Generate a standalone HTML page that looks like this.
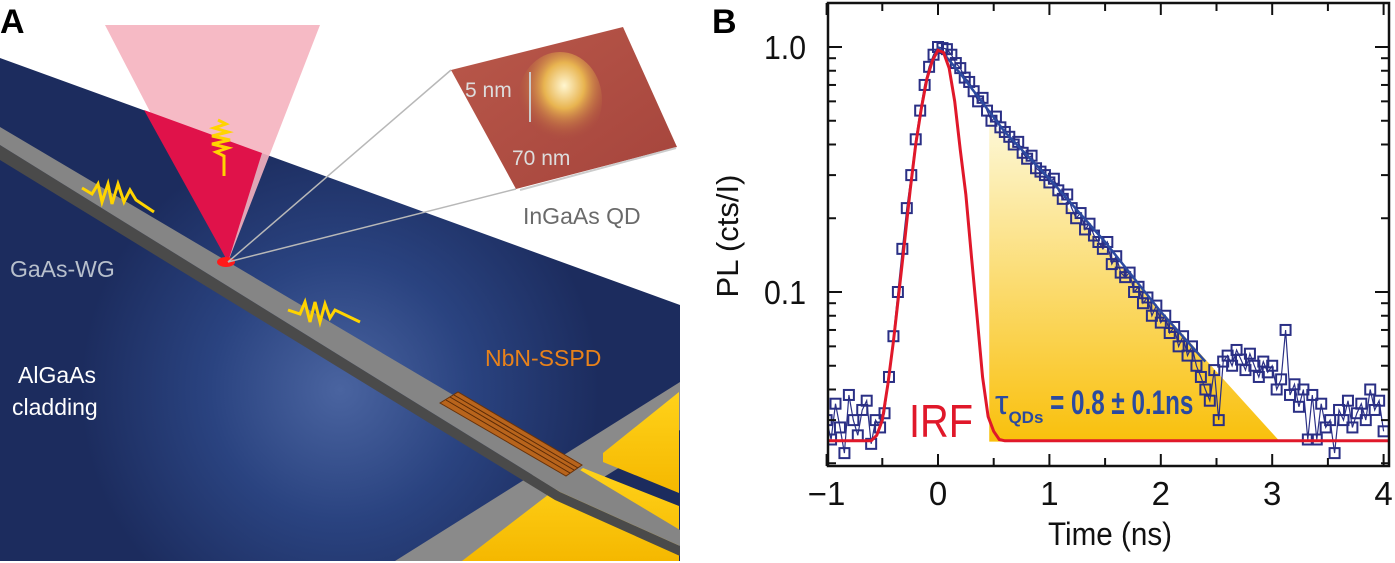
<!DOCTYPE html>
<html><head><meta charset="utf-8"><style>
html,body{margin:0;padding:0;background:#fff;width:1395px;height:563px;overflow:hidden}
svg{display:block}
text{font-family:"Liberation Sans",sans-serif}
</style></head><body>
<svg id="fig" width="1395" height="563" viewBox="0 0 1395 563">
<defs>
<radialGradient id="glow" cx="340" cy="390" r="260" gradientUnits="userSpaceOnUse">
<stop offset="0" stop-color="#4a64a0"/><stop offset="0.5" stop-color="#2a4380"/><stop offset="1" stop-color="#1c2c5e"/></radialGradient>
<linearGradient id="afm" x1="0" y1="0" x2="1" y2="1"><stop offset="0" stop-color="#b9584a"/><stop offset="1" stop-color="#a5443c"/></linearGradient>
<radialGradient id="bump" cx="0.55" cy="0.35" r="0.6"><stop offset="0" stop-color="#fff6d0"/><stop offset="0.4" stop-color="#e8b450"/><stop offset="1" stop-color="#a5443c" stop-opacity="0"/></radialGradient>
<linearGradient id="yel" x1="0" y1="0" x2="0" y2="1"><stop offset="0" stop-color="#fdf8d8"/><stop offset="1" stop-color="#f9c00c"/></linearGradient>
<linearGradient id="gold" x1="0" y1="0" x2="0" y2="1"><stop offset="0" stop-color="#ffd21a"/><stop offset="1" stop-color="#f5b800"/></linearGradient>
<clipPath id="plotclip"><rect x="828" y="3" width="561" height="463"/></clipPath>
</defs>

<!-- Panel A -->
<g>
<text x="0" y="33" font-size="34" font-weight="bold">A</text>
<polygon points="0,58 680,305 680,561 0,561" fill="url(#glow)"/>
<polygon points="395,561 468,561 680,430 680,382" fill="#8a8a8a"/>
<polygon points="462,561 583,468 679,506 679,561" fill="url(#gold)"/>
<polygon points="603,453 679,392 679,493 603,462" fill="url(#gold)"/>
<polygon points="0,145 560,492 680,546 680,556 555,500 0,160" fill="#4a4a4a"/>
<polygon points="0,127 580,470 680,530 680,546 560,492 0,145" fill="#858585"/>
<polygon points="440,403 458,392 582,465 566,476" fill="#b8641c" stroke="#6a3208" stroke-width="1"/>
<g stroke="#5a2a06" stroke-width="1">
<line x1="446" y1="400" x2="570" y2="473"/><line x1="450" y1="397" x2="574" y2="470"/><line x1="454" y1="395" x2="578" y2="468"/>
</g>
<polygon points="105,25 320,25 228,262" fill="#f5b3bf" opacity="0.9"/>
<polygon points="144,110 262,153 228,262" fill="#e0124a"/>
<ellipse cx="226" cy="262" rx="9" ry="5" fill="#ff1a1a"/>
<g fill="none" stroke="#ffd400" stroke-width="3">
<path d="M218,120 l8,4 -12,4 14,4 -16,4 18,4 -18,4 16,4 -12,4 8,4 0,20"/>
<path d="M82,188 l10,6 6,-10 4,18 6,-18 4,20 6,-20 6,18 6,-12 6,10 18,12"/>
<path d="M288,310 l12,4 5,-12 5,20 5,-20 5,20 5,-18 5,14 5,-8 25,12"/>
</g>
<line x1="228" y1="262" x2="451" y2="70" stroke="#b8b8b8" stroke-width="1.5"/>
<line x1="228" y1="262" x2="516" y2="189" stroke="#b8b8b8" stroke-width="1.5"/>
<polygon points="451,70 623,27 677,147 516,189" fill="url(#afm)"/>
<ellipse cx="560" cy="100" rx="42" ry="48" fill="url(#bump)"/>
<line x1="530" y1="72" x2="530" y2="122" stroke="#ccc" stroke-width="2"/>
<line x1="520" y1="190" x2="676" y2="148" stroke="#ccc" stroke-width="2"/>
<text x="465" y="97" font-size="21" fill="#ddd">5 nm</text>
<text x="512" y="165" font-size="21" fill="#ddd">70 nm</text>
<text x="523" y="224" font-size="23" fill="#6a6a6a">InGaAs QD</text>
<text x="10" y="277" font-size="23" fill="#b8c0cc">GaAs-WG</text>
<text x="18" y="383" font-size="23" fill="#fff">AlGaAs</text>
<text x="12" y="415" font-size="23" fill="#fff">cladding</text>
<text x="485" y="366" font-size="23" fill="#e8821a">NbN-SSPD</text>
</g>

<!-- Panel B -->
<text x="712" y="33" font-size="34" font-weight="bold">B</text>
<g id="chart"></g>
</svg>
<script>
var tStart = -1.0, tStep = 0.04;
var plValues = [0.03,0.025,0.035,0.028,0.022,0.038,0.03,0.026,0.033,0.036,0.024,0.03,0.028,
0.032,0.045,0.066,0.1,0.15,0.22,0.3,0.42,0.55,0.7,0.83,0.93,1.0,0.99,0.98,0.93,0.86,0.82,0.75,0.72,0.66,0.6,0.62,0.55,0.5,0.52,0.47,0.45,0.43,0.4,0.41,0.37,0.35,0.36,0.32,0.31,0.3,0.28,0.29,0.26,0.24,0.25,0.22,0.2,0.21,0.18,0.19,0.17,0.16,0.15,0.16,0.13,0.14,0.12,0.115,0.12,0.1,0.105,0.09,0.095,0.08,0.088,0.075,0.08,0.068,0.072,0.06,0.066,0.055,0.06,0.05,0.045,0.04,0.036,0.048,0.03,0.052,0.055,0.05,0.058,0.053,0.048,0.056,0.05,0.045,0.052,0.047,0.05,0.04,0.044,0.07,0.038,0.042,0.034,0.04,0.025,0.038,0.025,0.035,0.028,0.03,0.022,0.033,0.03,0.036,0.028,0.032,0.035,0.03,0.04,0.033,0.036,0.027];
var fitT = [0,0.2,0.6,1,1.5,2,2.4];
var fitV = [1.0,0.78,0.45,0.29,0.16,0.083,0.052];
var irfT = [-1,-0.6,-0.55,-0.5,-0.45,-0.4,-0.35,-0.3,-0.25,-0.2,-0.15,-0.1,-0.05,0,0.05,0.1,0.15,0.2,0.25,0.3,0.35,0.4,0.45,0.5,0.55,0.6,4.04];
var irfV = [0.0247,0.0247,0.026,0.03,0.042,0.063,0.1,0.16,0.26,0.4,0.56,0.74,0.88,0.97,0.95,0.82,0.6,0.38,0.25,0.14,0.08,0.045,0.031,0.027,0.025,0.0247,0.0247];
var shadeT = [0.46,3.07];
var shadeV = [0.5,0.0245];
var xTickLabels = ["\u22121","0","1","2","3","4"];
var xTickValues = [-1,0,1,2,3,4];
var yTickLabels = ["1.0","0.1"];
var yTickValues = [1.0,0.1];

var NS="http://www.w3.org/2000/svg";
var L=828,R=1389,T=3,B=466;
function X(t){return 938+(t-0)*111.4;}
function Y(v){return 47-(Math.log10(v))*245;}
var g=document.getElementById('chart');
function el(tag,attrs,parent){var e=document.createElementNS(NS,tag);for(var k in attrs)e.setAttribute(k,attrs[k]);(parent||g).appendChild(e);return e;}

var shade=el('polygon',{points:X(shadeT[0])+','+Y(shadeV[0])+' '+X(shadeT[0])+','+Y(shadeV[1])+' '+X(shadeT[1])+','+Y(shadeV[1]),fill:'url(#yel)'});



var clipG=el('g',{'clip-path':'url(#plotclip)'});
var pts=plValues.map(function(v,i){return X(tStart+i*tStep).toFixed(1)+','+Y(v).toFixed(1);});
var dl=el('polyline',{points:pts.join(' '),fill:'none',stroke:'#2a2f85','stroke-width':1.2},clipG);


plValues.forEach(function(v,i){
  var r=el('rect',{x:X(tStart+i*tStep)-5,y:Y(v)-5,width:10,height:10,fill:'none',stroke:'#2a2f85','stroke-width':2},clipG);
  
  
});
var fl=el('polyline',{points:fitT.map(function(t,i){return X(t)+','+Y(fitV[i]);}).join(' '),fill:'none',stroke:'#2c4aa0','stroke-width':2.5},clipG);


var il=el('polyline',{points:irfT.map(function(t,i){return X(t)+','+Y(irfV[i]);}).join(' '),fill:'none',stroke:'#e0182a','stroke-width':3},clipG);



var fr=el('rect',{x:L,y:T,width:R-L,height:B-T,fill:'none',stroke:'#111','stroke-width':2.5});


for(var k=-2;k<=8;k++){var t=k*0.5;var len=(k%2===0)?12:8;
  el('line',{x1:X(t),x2:X(t),y1:B,y2:B-len,stroke:'#111','stroke-width':2});
  el('line',{x1:X(t),x2:X(t),y1:T,y2:T+len,stroke:'#111','stroke-width':2});}
[0.01,0.1,1].forEach(function(d){for(var m=1;m<=9;m++){var v=d*m;var y=Y(v);if(y<T||y>B)continue;var len=(m===1)?14:8;
  el('line',{x1:L,x2:L+len,y1:y,y2:y,stroke:'#111','stroke-width':2});
  el('line',{x1:R,x2:R-len,y1:y,y2:y,stroke:'#111','stroke-width':2});}});
xTickLabels.forEach(function(s,i){var tx=el('text',{x:X(xTickValues[i]),y:505,'font-size':33,'text-anchor':'middle',fill:'#111'});tx.textContent=s;
  
  });
yTickLabels.forEach(function(s,i){var tx=el('text',{x:806,y:Y(yTickValues[i])+12,'font-size':33,'text-anchor':'end',fill:'#111',textLength:42,lengthAdjust:'spacingAndGlyphs'});tx.textContent=s;
  
  });
var xt=el('text',{x:1048,y:545,'font-size':32,fill:'#111',textLength:124,lengthAdjust:'spacingAndGlyphs'});xt.textContent='Time (ns)';


var yt=el('text',{x:0,y:0,'font-size':31,'text-anchor':'middle',fill:'#111',transform:'translate(738,236) rotate(-90)'});yt.textContent='PL (cts/I)';


var irfLab=el('text',{x:909,y:437,'font-size':46,fill:'#e0182a',textLength:64,lengthAdjust:'spacingAndGlyphs'});irfLab.textContent='IRF';


var tau=el('text',{x:995,y:414,'font-size':34,'font-weight':'bold',fill:'#2a4aa0'});
tau.innerHTML='<tspan font-weight="normal">\u03C4</tspan><tspan font-size="17" dy="9">QDs</tspan><tspan dy="-9" textLength="150" lengthAdjust="spacingAndGlyphs"> = 0.8 \u00B1 0.1ns</tspan>';


</script>
</body></html>
